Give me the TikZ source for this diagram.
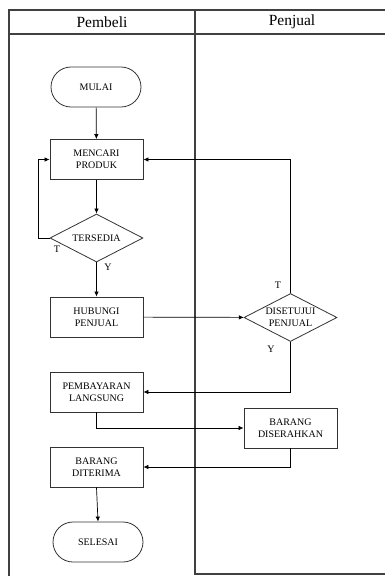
\documentclass[tikz,border=0pt]{standalone}
\usepackage{fontspec}
\setmainfont{Liberation Serif}
\usetikzlibrary{shapes.geometric,arrows.meta}
\begin{document}
\begin{tikzpicture}[x=1pt,y=-1pt,
  lane/.style={line width=1.3pt,draw=black!75},
  proc/.style={draw=black!80,line width=0.8pt,minimum width=93pt,minimum height=40pt,inner sep=1pt,align=center,font=\fontsize{10}{12}\selectfont},
  term/.style={proc,rounded corners=20pt,minimum width=90pt},
  dec/.style={draw=black!80,line width=0.8pt,diamond,aspect=1.94,minimum width=93pt,minimum height=48pt,inner sep=0pt,align=center,font=\fontsize{10}{12}\selectfont},
  conn/.style={line width=0.7pt,-{Latex[length=5pt,width=4.5pt]}},
  lbl/.style={font=\fontsize{10}{12}\selectfont,inner sep=0pt}]
\useasboundingbox (0,0) rectangle (385,576);
% swimlane frame
\draw[lane] (385,10) -- (9,10) -- (9,576);
\draw[lane] (9,34) -- (385,34);
\draw[lane] (195,10) -- (195,574) -- (385,574);
\node[font=\fontsize{15.5}{18}\selectfont,inner sep=0pt] (h1) at (102,22) {Pembeli};
\node[font=\fontsize{15.5}{18}\selectfont,inner sep=0pt] (h2) at (292,22) {Penjual};
% nodes
\node[term] (mulai) at (96,87) {MULAI};
\node[proc] (cari) at (96.5,159.5) {MENCARI\\PRODUK};
\node[dec] (sedia) at (96.5,238) {TERSEDIA};
\node[proc] (hub) at (96.5,317) {HUBUNGI\\PENJUAL};
\node[dec] (setuju) at (290.5,317.5) {DISETUJUI\\PENJUAL};
\node[proc] (bayar) at (96.5,392) {PEMBAYARAN\\LANGSUNG};
\node[proc] (serah) at (290.5,428) {BARANG\\DISERAHKAN};
\node[proc] (terima) at (96.5,467) {BARANG\\DITERIMA};
\node[term] (selesai) at (98,542) {SELESAI};
% labels
\node[lbl] (t1) at (57,249) {T};
\node[lbl] (y1) at (108,267) {Y};
\node[lbl] (t2) at (278,285) {T};
\node[lbl] (y2) at (271,349) {Y};
% connectors
\draw[conn] (mulai) -- (cari);
\draw[conn] (cari) -- (sedia);
\draw[conn] (sedia.west) -- ++(-11,0) |- (cari.west);
\draw[conn] (sedia) -- (hub);
\draw[conn] (hub) -- (setuju);
\draw[conn] (setuju.north) |- (cari.east);
\draw[conn] (setuju.south) |- (bayar.east);
\draw[conn] (bayar.south) |- (serah.west);
\draw[conn] (serah.south) |- (terima.east);
\draw[conn] (terima.south) -- (selesai.north);
\end{tikzpicture}
\end{document}
